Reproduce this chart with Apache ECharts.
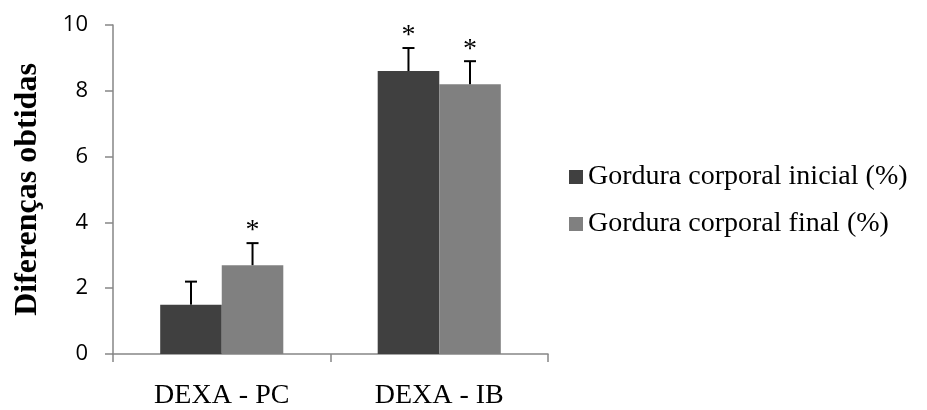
<!DOCTYPE html>
<html><head><meta charset="utf-8">
<script src="https://cdn.jsdelivr.net/npm/echarts@6/dist/echarts.min.js"></script>
<style>html,body{margin:0;padding:0;background:#fff}#c{width:927px;height:410px}</style>
</head><body><div id="c"></div>
<script>
var categories = ['DEXA - PC', 'DEXA - IB'];
var seriesNames = ['Gordura corporal inicial (%)', 'Gordura corporal final (%)'];
var inicialValues = [1.5, 8.6];
var finalValues = [2.7, 8.2];
var inicialErrors = [0.7, 0.7];
var finalErrors = [0.67, 0.7];
var inicialStars = [false, true];
var finalStars = [true, true];
var yTicks = [0, 2, 4, 6, 8, 10];

var colors = ['#404040', '#808080'];
var barPct = 28.3;

function errSeries(values, errors, stars, idx) {
  var data = values.map(function (v, i) { return [i, v, v + errors[i], stars[i] ? 1 : 0]; });
  return {
    type: 'custom', name: 'err' + idx, silent: true, z: 5,
    data: data,
    renderItem: function (params, api) {
      var band = api.size([1, 0])[0];
      var off = (idx === 0 ? -1 : 1) * band * barPct / 200;
      var base = api.coord([api.value(0), api.value(1)]);
      var top = api.coord([api.value(0), api.value(2)]);
      var x = base[0] + off;
      var children = [
        { type: 'line', shape: { x1: x, y1: base[1], x2: x, y2: top[1] }, style: { stroke: '#000', lineWidth: 2 } },
        { type: 'line', shape: { x1: x - 6, y1: top[1], x2: x + 6, y2: top[1] }, style: { stroke: '#000', lineWidth: 2 } }
      ];
      if (api.value(3)) {
        children.push({ type: 'text', x: x, y: top[1] + 2, style: { text: '*', fontFamily: 'Liberation Serif', fontSize: 28, fill: '#000', align: 'center', verticalAlign: 'bottom' } });
      }
      return { type: 'group', children: children };
    }
  };
}

var chart = echarts.init(document.getElementById('c'));
chart.setOption({
  animation: false,
  backgroundColor: '#fff',
  grid: { left: 113, right: 379, top: 25, bottom: 55 },
  legend: {
    orient: 'vertical', left: 564, top: 158, itemWidth: 14, itemHeight: 14, itemGap: 19,
    data: seriesNames,
    textStyle: { fontFamily: 'Liberation Serif', fontSize: 28, color: '#000' },
    icon: 'rect'
  },
  xAxis: {
    type: 'category', data: categories,
    axisLine: { lineStyle: { color: '#868686', width: 1.5 } },
    axisTick: { show: true, length: 8, alignWithLabel: false, lineStyle: { color: '#868686', width: 1.5 } },
    axisLabel: { fontFamily: 'Liberation Serif', fontSize: 28, color: '#000', margin: 28 }
  },
  yAxis: {
    type: 'value', min: 0, max: 10, interval: 2,
    name: 'Diferenças obtidas', nameLocation: 'middle', nameGap: 69,
    nameTextStyle: { fontFamily: 'Liberation Serif', fontSize: 32, fontWeight: 'bold', color: '#000' },
    axisLine: { show: true, lineStyle: { color: '#868686', width: 1.5 } },
    axisTick: { show: true, length: 8, lineStyle: { color: '#868686', width: 1.5 } },
    splitLine: { show: false },
    axisLabel: { fontFamily: 'Open Sans', fontSize: 22, color: '#000', margin: 25,
      formatter: function (v) { return yTicks.indexOf(v) >= 0 ? String(v) : ''; } }
  },
  series: [
    { type: 'bar', name: seriesNames[0], data: inicialValues, barWidth: barPct + '%', barGap: '0%', itemStyle: { color: colors[0] } },
    { type: 'bar', name: seriesNames[1], data: finalValues, barWidth: barPct + '%', barGap: '0%', itemStyle: { color: colors[1] } },
    errSeries(inicialValues, inicialErrors, inicialStars, 0),
    errSeries(finalValues, finalErrors, finalStars, 1)
  ]
});
</script></body></html>
